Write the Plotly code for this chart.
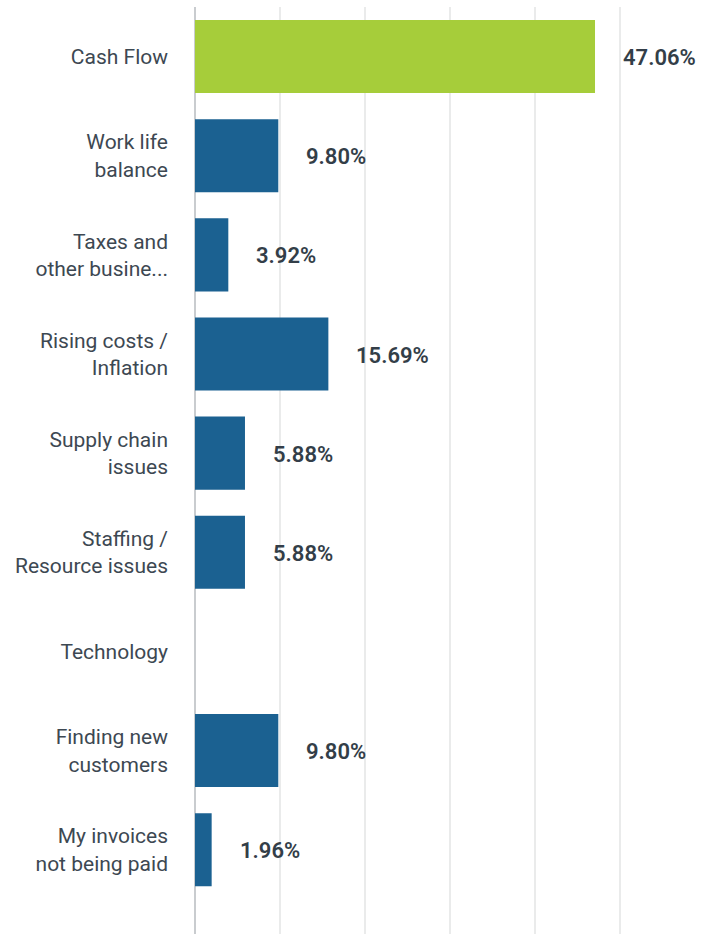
import plotly.graph_objects as go

categories = [
    "Cash Flow",
    "Work life<br>balance",
    "Taxes and<br>other busine...",
    "Rising costs /<br>Inflation",
    "Supply chain<br>issues",
    "Staffing /<br>Resource issues",
    "Technology",
    "Finding new<br>customers",
    "My invoices<br>not being paid",
]
percentages = [47.06, 9.80, 3.92, 15.69, 5.88, 5.88, 0.0, 9.80, 1.96]
bar_colors = ["#a6cd3a"] + ["#1b6191"] * 8

TEXT = "#333e48"
FONT = "Roboto"

fig = go.Figure(
    go.Bar(
        x=percentages,
        y=categories,
        orientation="h",
        width=0.737,
        marker=dict(color=bar_colors, line=dict(width=0)),
        hoverinfo="skip",
    )
)

# value labels to the right of each bar (none for empty categories)
for cat, val in zip(categories, percentages):
    if val <= 0:
        continue
    fig.add_annotation(
        x=val, y=cat, text=f"{val:.2f}%", showarrow=False,
        xanchor="left", yanchor="middle", xshift=26, yshift=-1,
        font=dict(family=FONT, size=22, color=TEXT, weight=600),
    )

fig.update_layout(
    width=715, height=934,
    margin=dict(l=195, r=10, t=7, b=0),
    paper_bgcolor="white", plot_bgcolor="white",
    showlegend=False,
    font=dict(family=FONT, size=21, color="#3d4852"),
    bargap=0.26,
)
fig.update_xaxes(
    range=[0, 60], dtick=10, showticklabels=False,
    showgrid=True, gridcolor="#eaebeb", gridwidth=1.6,
    zeroline=True, zerolinecolor="#c9cccf", zerolinewidth=1.6,
    showline=False, fixedrange=True,
)
fig.update_yaxes(
    type="category", categoryorder="array", categoryarray=categories,
    range=[8.85, -0.5], showgrid=False, zeroline=False, showline=False,
    ticks="", ticklabelstandoff=26, fixedrange=True,
    tickfont=dict(family=FONT, size=21, color="#3d4852"),
)

fig.write_html("out.html", config={"displayModeBar": False})
